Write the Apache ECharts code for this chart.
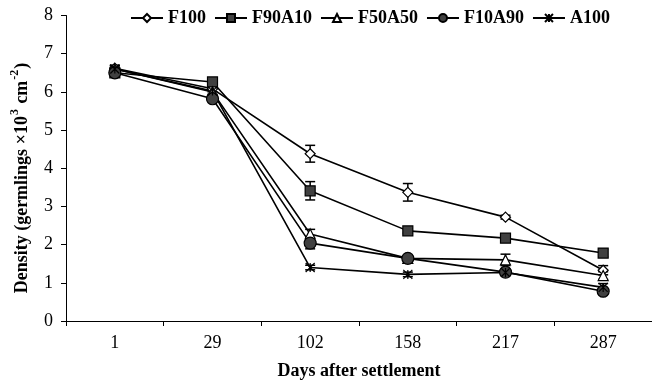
<!DOCTYPE html>
<html>
<head>
<meta charset="utf-8">
<script src="https://cdn.jsdelivr.net/npm/echarts@6/dist/echarts.min.js"></script>
<style>html,body{margin:0;padding:0;background:#fff}#c{width:652px;height:385px}</style>
</head>
<body>
<div id="c"></div>
<script>
const categories = ['1', '29', '102', '158', '217', '287'];
const seriesNames = ['F100', 'F90A10', 'F50A50', 'F10A90', 'A100'];
const F100 = [6.62, 6.08, 4.38, 3.37, 2.72, 1.33];
const F90A10 = [6.50, 6.26, 3.41, 2.36, 2.17, 1.78];
const F50A50 = [6.60, 6.00, 2.28, 1.64, 1.60, 1.19];
const F10A90 = [6.50, 5.82, 2.04, 1.64, 1.28, 0.78];
const A100 = [6.60, 6.02, 1.40, 1.22, 1.27, 0.88];
const errF100 = [0.08, 0.08, 0.22, 0.23, 0.05, 0.12];
const errF90A10 = [0.06, 0.06, 0.24, 0.06, 0.08, 0.10];
const errF50A50 = [0.08, 0.08, 0.12, 0.06, 0.15, 0.10];
const errF10A90 = [0.06, 0.08, 0.15, 0.06, 0.08, 0.08];
const errA100 = [0.08, 0.08, 0.06, 0.06, 0.08, 0.10];
const yTicks = [0, 1, 2, 3, 4, 5, 6, 7, 8];

const values = [F100, F90A10, F50A50, F10A90, A100];
const errors = [errF100, errF90A10, errF50A50, errF10A90, errA100];
const FONT = '"Liberation Serif", "Times New Roman", serif';
const symbols = ['diamond', 'rect', 'triangle', 'circle', 'path://M0,0 L10,10 M10,0 L0,10 M5,0 L5,10'];
const symSizes = [10, 10, 10, 12, 9];
const fills = ['#ffffff', '#404040', '#ffffff', '#404040', '#000000'];

const series = [];
values.forEach(function (vals, i) {
  series.push({
    type: 'custom',
    name: seriesNames[i] + '_err',
    silent: true,
    z: 3,
    renderItem: function (params, api) {
      const x = api.value(0);
      const lo = api.coord([x, api.value(1)]);
      const hi = api.coord([x, api.value(2)]);
      const w = 5;
      const st = { stroke: '#000', lineWidth: 1.5 };
      return {
        type: 'group',
        children: [
          { type: 'line', shape: { x1: lo[0], y1: lo[1], x2: hi[0], y2: hi[1] }, style: st },
          { type: 'line', shape: { x1: lo[0] - w, y1: lo[1], x2: lo[0] + w, y2: lo[1] }, style: st },
          { type: 'line', shape: { x1: hi[0] - w, y1: hi[1], x2: hi[0] + w, y2: hi[1] }, style: st }
        ]
      };
    },
    encode: { x: 0, y: [1, 2] },
    data: vals.map(function (v, k) { return [k, v - errors[i][k], v + errors[i][k]]; })
  });
});
values.forEach(function (vals, i) {
  series.push({
    type: 'line',
    name: seriesNames[i],
    data: vals,
    z: 4,
    symbol: symbols[i],
    symbolSize: symSizes[i],
    showAllSymbol: true,
    lineStyle: { color: '#000', width: 1.6 },
    itemStyle: { color: fills[i], borderColor: '#000', borderWidth: 1.2, opacity: 1 },
    emphasis: { disabled: true }
  });
});

const chart = echarts.init(document.getElementById('c'), null, { renderer: 'canvas' });
chart.setOption({
  animation: false,
  backgroundColor: '#fff',
  grid: { left: 66, top: 15.5, width: 589, bottom: 62, containLabel: false },
  legend: {
    data: seriesNames,
    left: 125,
    top: 4,
    itemWidth: 32,
    itemHeight: 10,
    itemGap: 8,
    textStyle: { fontFamily: FONT, fontWeight: 'bold', fontSize: 18, color: '#000' }
  },
  xAxis: {
    type: 'category',
    data: categories,
    boundaryGap: true,
    name: 'Days after settlement',
    nameLocation: 'middle',
    nameGap: 41,
    nameTextStyle: { fontFamily: FONT, fontWeight: 'bold', fontSize: 18, color: '#000' },
    axisLine: { lineStyle: { color: '#000', width: 1 } },
    axisTick: { show: true, length: 5, inside: false, alignWithLabel: false, lineStyle: { color: '#000' } },
    axisLabel: { fontFamily: FONT, fontSize: 18, color: '#000', margin: 13 },
    splitLine: { show: false }
  },
  yAxis: {
    type: 'value',
    min: yTicks[0],
    max: yTicks[yTicks.length - 1],
    interval: 1,
    axisLine: { show: true, lineStyle: { color: '#000', width: 1 } },
    axisTick: { show: true, length: 5, inside: false, lineStyle: { color: '#000' } },
    axisLabel: { fontFamily: FONT, fontSize: 18, color: '#000', margin: 13 },
    splitLine: { show: false }
  },
  graphic: [{
    type: 'text',
    x: 20,
    y: 178,
    rotation: Math.PI / 2,
    style: {
      text: '{m|Density (germlings ×10}{s|3}{m| cm}{s|-2}{m|)}',
      rich: {
        m: { font: 'bold 18px ' + FONT, fill: '#000', verticalAlign: 'bottom', lineHeight: 22 },
        s: { font: 'bold 12px ' + FONT, fill: '#000', verticalAlign: 'top', lineHeight: 22, padding: [0, 1, 0, 1] }
      },
      textAlign: 'center',
      textVerticalAlign: 'middle'
    }
  }],
  series: series
});
</script>
</body>
</html>
